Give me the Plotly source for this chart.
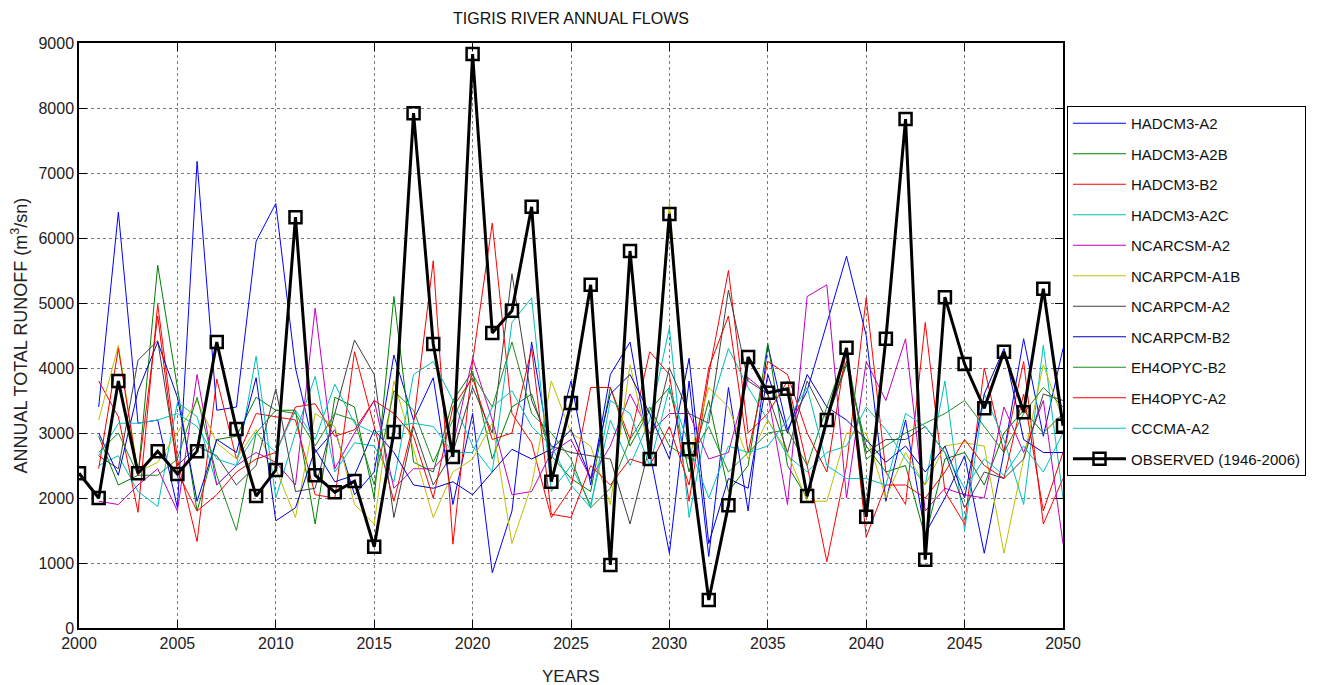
import plotly.graph_objects as go

# Simulated and observed annual flows of the Tigris River
years_obs = list(range(2000, 2051))
years_mod = list(range(2001, 2051))

hadcm3_a2 = [3400, 6400, 3150, 3200, 1850, 7180, 3350, 3400, 5950, 6530,
             4000, 2700, 3050, 2050, 2400, 4200, 3200, 3850, 1900, 3300,
             850, 1800, 4400, 2600, 3800, 2200, 3900, 4400, 2700, 1150,
             3800, 1100, 3700, 1800, 4350, 3050, 3650, 4700, 5720, 4500,
             1950, 3200, 1450, 2000, 2650, 1150, 2700, 4450, 2950, 4300]
hadcm3_a2b = [2950, 2200, 2350, 5580, 3700, 1800, 2900, 2950, 3550, 3350,
              3350, 1600, 3550, 3400, 2000, 5100, 2550, 2400, 3500, 3950,
              2600, 3400, 3600, 2650, 2300, 2100, 3700, 2800, 3350, 3700,
              2400, 3500, 2100, 2500, 4380, 2500, 2000, 3200, 4050, 2800,
              2400, 2500, 1400, 2600, 2700, 2200, 3000, 3350, 3000, 3300]
hadcm3_b2 = [3800, 3250, 1780, 4980, 2600, 1330, 3830, 2600, 3300, 3250,
             3200, 2050, 2000, 4250, 3100, 1950, 3150, 5650, 1290, 4100,
             6230, 3300, 2850, 1700, 2150, 3700, 3700, 2900, 4250, 3900,
             1950, 3900, 5500, 3000, 3300, 3800, 2500, 1020, 2500, 5080,
             2400, 1900, 4700, 2100, 1600, 4000, 2700, 4100, 1600, 2300]
hadcm3_a2c = [2500, 2650, 2100, 1870, 3470, 3250, 2200, 2500, 4180, 2000,
              3000, 3870, 2400, 2850, 2800, 2250, 3900, 4100, 3500, 2800,
              2400, 4700, 5080, 2100, 2500, 1900, 3200, 2500, 3200, 4620,
              1700, 3300, 4300, 3700, 3200, 2650, 2400, 2700, 2800, 3400,
              3050, 2600, 2200, 3800, 1500, 3600, 2900, 1900, 4350, 2000]
ncarcsm_a2 = [1950, 1900, 2200, 2450, 1800, 3900, 2200, 2500, 2700, 2550,
              2200, 4920, 2450, 3000, 3500, 2150, 2450, 2450, 2800, 4150,
              3200, 2050, 2100, 2700, 2900, 2300, 2800, 3600, 3000, 3300,
              3300, 2600, 2700, 3850, 3600, 1900, 5100, 5280, 2000, 4100,
              3500, 4450, 1800, 2150, 2050, 2000, 3400, 2700, 3500, 1300]
ncarpcm_a1b = [3200, 4350, 2400, 2550, 3000, 3500, 2850, 2600, 3050, 2450,
               1700, 3300, 3100, 1900, 1600, 3800, 2750, 1700, 2400, 2600,
               3150, 1300, 2200, 3800, 3000, 2800, 1900, 4050, 2700, 6550,
               2600, 3700, 3400, 2600, 3200, 2700, 1950, 1950, 3000, 3000,
               2000, 2700, 2200, 2800, 2850, 2800, 1150, 2600, 4050, 3200]
ncarpcm_a2 = [2650, 2450, 4120, 4420, 2500, 2800, 2650, 2200, 2500, 3680,
              2100, 2150, 3300, 4430, 3900, 1700, 3100, 2200, 2700, 3700,
              3000, 5450, 3500, 2800, 2700, 2650, 2600, 1600, 2800, 4000,
              3300, 3150, 5200, 3800, 3600, 2700, 3800, 3200, 4100, 2700,
              2900, 2900, 3100, 2700, 1850, 2400, 2300, 2600, 3600, 3500]
ncarpcm_b2 = [3000, 2350, 3650, 4400, 3550, 1950, 2900, 2700, 3850, 1650,
              1850, 2750, 2250, 2350, 3050, 2700, 2200, 2150, 2250, 2050,
              2400, 2750, 2600, 2750, 3050, 2300, 3600, 3900, 3300, 2600,
              4150, 1300, 2300, 2150, 3900, 3000, 3900, 3400, 3200, 2900,
              2550, 2800, 2400, 2800, 2000, 3600, 4300, 2900, 2700, 2700]
eh4opyc_b2 = [2700, 3000, 2350, 2350, 2600, 3550, 2350, 1500, 3000, 3350,
              3300, 2800, 3300, 3200, 2200, 3650, 3350, 2550, 3200, 3900,
              3400, 4400, 3300, 3000, 2600, 1850, 2150, 2900, 3400, 2800,
              2600, 3100, 2400, 2700, 3000, 3050, 2500, 3400, 4250, 2600,
              2800, 3000, 3150, 3300, 3500, 3100, 2700, 3300, 3700, 3400]
eh4opyc_a2 = [2450, 4300, 2350, 4800, 2400, 1800, 2050, 2400, 2600, 2700,
              3400, 3450, 2950, 3050, 3500, 3300, 2950, 2000, 3400, 3850,
              2900, 3000, 4300, 1750, 1700, 2500, 2200, 2600, 2500, 3100,
              2200, 4000, 4800, 2700, 4100, 3900, 3000, 2400, 4300, 1400,
              2200, 2200, 2000, 2400, 2900, 2500, 2300, 3600, 1800, 2700]
cccma_a2 = [2650, 3150, 3150, 3200, 3300, 3100, 2600, 2500, 3000, 2700,
            3350, 2900, 3750, 3150, 3000, 3100, 3150, 3100, 2700, 2700,
            3400, 3650, 3100, 2800, 2200, 1850, 3500, 3300, 2500, 3700,
            2800, 2000, 2800, 2700, 2800, 3200, 3700, 2500, 2300, 2300,
            2200, 3300, 3100, 2700, 2150, 2600, 2350, 2800, 2400, 3000]
observed = [2380, 2000, 3800, 2380, 2720, 2370, 2720, 4400, 3060, 2030,
            2430, 6320, 2350, 2090, 2260, 1250, 3015, 7920, 4370, 2630,
            8830, 4540, 4880, 6480, 2250, 3460, 5280, 970, 5800, 2600,
            6370, 2750, 430, 1890, 4170, 3620, 3680, 2030, 3200, 4310,
            1710, 4450, 7830, 1050, 5090, 4060, 3380, 4250, 3320, 5220,
            3110]

models = [
    ("HADCM3-A2", hadcm3_a2, "#0000FF"),
    ("HADCM3-A2B", hadcm3_a2b, "#008000"),
    ("HADCM3-B2", hadcm3_b2, "#FF0000"),
    ("HADCM3-A2C", hadcm3_a2c, "#00BFBF"),
    ("NCARCSM-A2", ncarcsm_a2, "#BF00BF"),
    ("NCARPCM-A1B", ncarpcm_a1b, "#BFBF00"),
    ("NCARPCM-A2", ncarpcm_a2, "#404040"),
    ("NCARPCM-B2", ncarpcm_b2, "#0000CC"),
    ("EH4OPYC-B2", eh4opyc_b2, "#1E8C1E"),
    ("EH4OPYC-A2", eh4opyc_a2, "#F00000"),
    ("CCCMA-A2", cccma_a2, "#00C0C0"),
]

FONT = "Liberation Sans, Arial, sans-serif"
W, H = 1325, 685
L, R, T, B = 79, 1063, 43, 628  # plot-area edges in pixels

fig = go.Figure()
for i, (name, vals, col) in enumerate(models):
    fig.add_trace(go.Scatter(
        x=years_mod, y=vals, name=name, mode="lines",
        line=dict(color=col, width=1), legendgroup=f"g{i}"))

fig.add_trace(go.Scatter(
    x=years_obs, y=observed, name="OBSERVED (1946-2006)", mode="lines+markers",
    line=dict(color="black", width=3),
    marker=dict(symbol="square-open", size=12, color="black",
                line=dict(color="black", width=2.5)),
    legendgroup="obs"))

axis_common = dict(
    showline=True, linecolor="black", linewidth=1.5, mirror="ticks",
    ticks="inside", ticklen=8, tickcolor="black",
    showgrid=True, gridcolor="#7a7a7a", griddash="dot", gridwidth=1,
    zeroline=False, automargin=False,
    tickfont=dict(family=FONT, size=16, color="#222"),
)

fig.update_layout(
    width=W, height=H,
    margin=dict(l=L, r=W - R, t=T, b=H - B),
    paper_bgcolor="white", plot_bgcolor="white",
    title=dict(text="TIGRIS RIVER ANNUAL FLOWS", x=(L + R) / 2 / W,
               xanchor="center", y=1 - 18 / H, yanchor="middle",
               font=dict(family=FONT, size=16, color="#111")),
    xaxis=dict(range=[2000, 2050], tickvals=list(range(2000, 2051, 5)),
               **axis_common),
    yaxis=dict(range=[0, 9000], tickvals=list(range(0, 9001, 1000)),
               **axis_common),
    legend=dict(x=(1067 - L) / (R - L), xanchor="left",
                y=(B - 106) / (B - T), yanchor="top",
                bgcolor="white", bordercolor="black", borderwidth=1,
                font=dict(family=FONT, size=15, color="#111"),
                tracegroupgap=8, itemwidth=53),
    showlegend=True,
    annotations=[
        dict(text="YEARS", xref="paper", yref="paper",
             x=0.5, y=-(676 - B) / (B - T), xanchor="center", yanchor="middle",
             showarrow=False, font=dict(family=FONT, size=17, color="#222")),
        dict(text="ANNUAL TOTAL RUNOFF (m<sup>3</sup>/sn)", xref="paper", yref="paper",
             x=-(L - 20) / (R - L), y=0.5, xanchor="center", yanchor="middle",
             textangle=-90, showarrow=False,
             font=dict(family=FONT, size=18, color="#222")),
    ],
)

fig.write_html("out.html")
